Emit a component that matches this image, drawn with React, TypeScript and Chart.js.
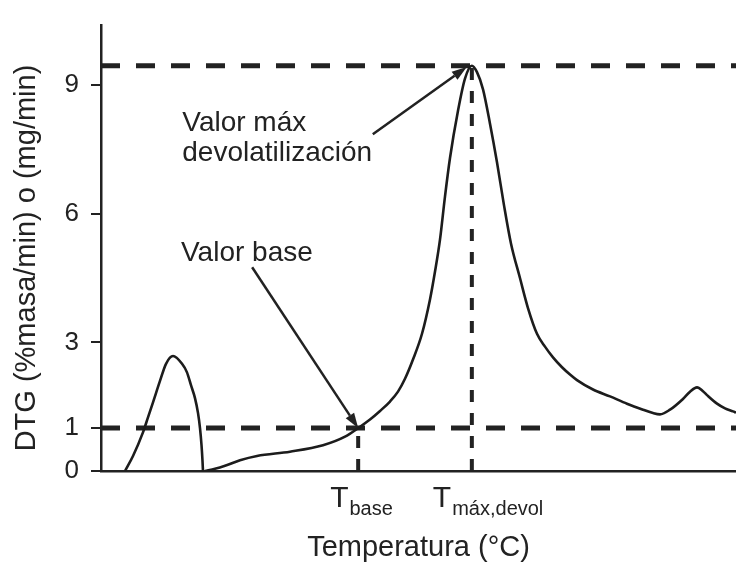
import React, { useEffect, useRef } from 'react';
import { Chart, registerables } from 'chart.js';

Chart.register(...registerables);

const FONT = '"Liberation Sans", Arial, Helvetica, sans-serif';
const INK = '#222222';

// First (small) peak
const peak1X = [3.78, 5.04, 6.61, 7.4, 8.19, 9.29, 10.24, 11.34, 12.76, 13.54, 14.17, 14.8, 15.28, 15.59, 15.83, 15.98, 16.06];
const peak1Y = [0, 0.35, 0.9, 1.25, 1.6, 2.1, 2.5, 2.68, 2.5, 2.3, 2.0, 1.7, 1.35, 1.0, 0.6, 0.25, 0];

// Main devolatilization curve
const mainX = [16.38, 17.95, 19.53, 21.89, 24.57, 29.76, 34.96, 38.43, 40.5, 42.36, 43.94, 45.51, 46.77, 47.87, 49.13, 50.55, 51.81, 52.6, 53.39, 54.17, 54.96, 56.22, 57.32, 58.4, 59.21, 60.16, 61.26, 62.36, 63.46, 64.57, 65.98, 67.24, 68.66, 69.92, 71.18, 72.6, 73.86, 74.96, 77.48, 80.16, 82.83, 85.35, 86.93, 88.03, 89.61, 91.65, 92.76, 93.86, 94.8, 95.43, 97.01, 98.27, 99.53, 100];
const mainY = [0, 0.05, 0.12, 0.25, 0.35, 0.45, 0.6, 0.8, 1.0, 1.2, 1.4, 1.62, 1.85, 2.15, 2.6, 3.2, 4.0, 4.65, 5.4, 6.4, 7.3, 8.4, 9.15, 9.45, 9.3, 8.9, 8.1, 7.2, 6.2, 5.3, 4.5, 3.8, 3.2, 2.9, 2.65, 2.42, 2.25, 2.12, 1.9, 1.74, 1.57, 1.43, 1.35, 1.32, 1.43, 1.68, 1.85, 1.95, 1.86, 1.77, 1.57, 1.46, 1.39, 1.36];

// Reference levels / temperatures
const tBase = 40.5;
const tMax = 58.4;
const yBase = 1;
const yMax = 9.45;

const xRange = [0, 100];
const yRange = [0, 10.4];
const yTicks = [0, 1, 3, 6, 9];

const yTitle = 'DTG (%masa/min) o (mg/min)';
const xTitle = 'Temperatura (°C)';
const tLabels = [
  { main: 'T', sub: 'base', value: tBase, dx: -28 },
  { main: 'T', sub: 'máx,devol', value: tMax, dx: -39 },
];

// Annotation texts anchored in data coordinates
const notes = [
  { text: 'Valor máx', x: 12.8, y: 7.93 },
  { text: 'devolatilización', x: 12.8, y: 7.23 },
  { text: 'Valor base', x: 12.6, y: 4.9 },
];
const arrows = [
  { from: [42.8, 7.85], to: [57.6, 9.42] },
  { from: [23.8, 4.75], to: [tBase, yBase] },
];

const toPts = (xs: number[], ys: number[]) => xs.map((x, i) => ({ x, y: ys[i] }));

function drawArrow(ctx: CanvasRenderingContext2D, x1: number, y1: number, x2: number, y2: number) {
  const ang = Math.atan2(y2 - y1, x2 - x1);
  const head = 15;
  const hw = 5;
  const bx = x2 - head * Math.cos(ang);
  const by = y2 - head * Math.sin(ang);
  ctx.lineWidth = 2.5;
  ctx.beginPath();
  ctx.moveTo(x1, y1);
  ctx.lineTo(bx, by);
  ctx.stroke();
  ctx.beginPath();
  ctx.moveTo(x2, y2);
  ctx.lineTo(bx - hw * Math.sin(ang), by + hw * Math.cos(ang));
  ctx.lineTo(bx + hw * Math.sin(ang), by - hw * Math.cos(ang));
  ctx.closePath();
  ctx.fill();
}

const annotPlugin = {
  id: 'annot',
  afterDatasetsDraw(chart: any) {
    const { ctx, scales } = chart;
    const x = scales.x;
    const y = scales.y;
    ctx.save();
    ctx.fillStyle = INK;
    ctx.strokeStyle = INK;
    ctx.font = `28px ${FONT}`;
    ctx.textAlign = 'left';
    ctx.textBaseline = 'alphabetic';
    for (const n of notes) {
      ctx.fillText(n.text, x.getPixelForValue(n.x), y.getPixelForValue(n.y));
    }
    for (const a of arrows) {
      drawArrow(
        ctx,
        x.getPixelForValue(a.from[0]),
        y.getPixelForValue(a.from[1]),
        x.getPixelForValue(a.to[0]),
        y.getPixelForValue(a.to[1])
      );
    }
    ctx.restore();
  },
  afterDraw(chart: any) {
    const { ctx, scales } = chart;
    const x = scales.x;
    const y = scales.y;
    ctx.save();
    ctx.fillStyle = INK;
    ctx.textAlign = 'left';
    ctx.textBaseline = 'alphabetic';
    const base = y.getPixelForValue(0);
    for (const t of tLabels) {
      const px = x.getPixelForValue(t.value) + t.dx;
      ctx.font = `30px ${FONT}`;
      ctx.fillText(t.main, px, base + 36);
      const w = ctx.measureText(t.main).width;
      ctx.font = `20px ${FONT}`;
      ctx.fillText(t.sub, px + w + 1, base + 44);
    }
    // y axis title
    ctx.font = `29px ${FONT}`;
    ctx.textAlign = 'center';
    ctx.textBaseline = 'middle';
    ctx.translate(27, (y.top + y.bottom) / 2 + 10);
    ctx.rotate(-Math.PI / 2);
    ctx.fillText(yTitle, 0, 0);
    ctx.restore();
  },
};

export default function App() {
  const ref = useRef<HTMLCanvasElement | null>(null);

  useEffect(() => {
    document.body.style.margin = '0';
    if (!ref.current) return;
    const dashedH = (v: number) => ({
      data: [{ x: xRange[0], y: v }, { x: xRange[1], y: v }],
      borderColor: INK,
      borderWidth: 5,
      borderDash: [19, 16],
      pointRadius: 0,
      showLine: true,
      tension: 0,
      order: 2,
    });
    const dashedV = (t: number, top: number) => ({
      data: [{ x: t, y: 0 }, { x: t, y: top }],
      borderColor: INK,
      borderWidth: 4,
      borderDash: [12, 11],
      pointRadius: 0,
      showLine: true,
      tension: 0,
      order: 2,
    });
    const curve = (pts: any[]) => ({
      data: pts,
      borderColor: '#1c1c1c',
      borderWidth: 2.6,
      pointRadius: 0,
      showLine: true,
      cubicInterpolationMode: 'monotone',
      order: 1,
    });

    const chart = new Chart(ref.current, {
      type: 'scatter',
      data: {
        datasets: [
          dashedH(yMax),
          dashedH(yBase),
          dashedV(tMax, yMax),
          dashedV(tBase, yBase),
          curve(toPts(peak1X, peak1Y)),
          curve(toPts(mainX, mainY)),
        ] as any,
      },
      options: {
        animation: false,
        responsive: true,
        maintainAspectRatio: false,
        layout: { padding: { top: 14, right: 0, left: 0, bottom: 0 } },
        plugins: {
          legend: { display: false },
          tooltip: { enabled: false },
        },
        scales: {
          x: {
            type: 'linear',
            min: xRange[0],
            max: xRange[1],
            ticks: { display: false },
            grid: { display: false },
            border: { display: true, color: INK, width: 2.5 },
            title: {
              display: true,
              text: xTitle,
              color: INK,
              font: { family: FONT, size: 29, lineHeight: 1 },
              padding: { top: 0, bottom: 1 },
            },
            afterFit: (s: any) => {
              s.height = 92;
            },
          },
          y: {
            type: 'linear',
            min: yRange[0],
            max: yRange[1],
            afterBuildTicks: (s: any) => {
              s.ticks = yTicks.map((v) => ({ value: v }));
            },
            ticks: {
              color: INK,
              padding: 12,
              font: { family: FONT, size: 26, lineHeight: 1 },
            },
            grid: {
              display: true,
              drawOnChartArea: false,
              drawTicks: true,
              tickLength: 10,
              color: INK,
              lineWidth: 2,
            },
            border: { display: true, color: INK, width: 2.5 },
            afterFit: (s: any) => {
              s.width = 101;
            },
          },
        },
      } as any,
      plugins: [annotPlugin],
    });
    return () => chart.destroy();
  }, []);

  return (
    <div style={{ width: 736, height: 563, position: 'relative' }}>
      <canvas ref={ref} />
    </div>
  );
}
